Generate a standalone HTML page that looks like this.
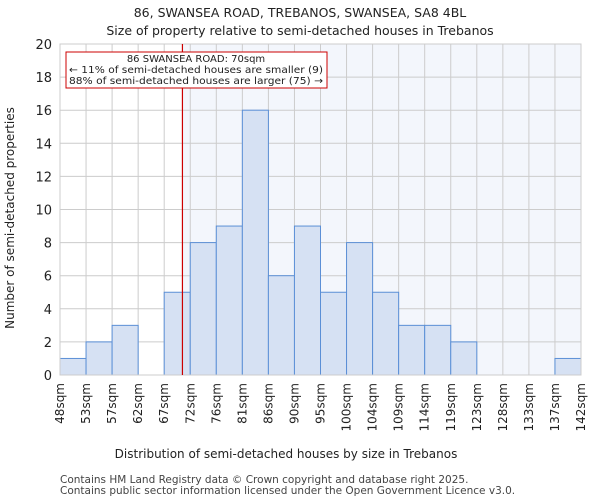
<!DOCTYPE html>
<html><head><meta charset="utf-8"><style>
body{margin:0;background:#fff;font-family:"DejaVu Sans","Liberation Sans",sans-serif}
</style></head><body>
<svg id="c" width="600" height="500" xmlns="http://www.w3.org/2000/svg" font-family="DejaVu Sans, Liberation Sans, sans-serif"></svg>
<script>
const edgeLabels=["48sqm","53sqm","57sqm","62sqm","67sqm","72sqm","76sqm","81sqm","86sqm","90sqm","95sqm","100sqm","104sqm","109sqm","114sqm","119sqm","123sqm","128sqm","133sqm","137sqm","142sqm"];
const edgeValues=[48,53,57,62,67,72,76,81,86,90,95,100,104,109,114,119,123,128,133,137,142];
const counts=[1,2,3,0,5,8,9,16,6,9,5,8,5,3,3,2,0,0,0,1];
const yTicks=[0,2,4,6,8,10,12,14,16,18,20];
const markerValue=70.5;
const svg=document.getElementById('c');
const NS='http://www.w3.org/2000/svg';
const L=60,R=581,T=44,B=375,yMax=20;
const bw=(R-L)/counts.length;
const xi=i=>L+i*bw;
const y=v=>B-(v/yMax)*(B-T);
function xv(v){for(let i=0;i<edgeValues.length-1;i++){if(v<=edgeValues[i+1])return xi(i+(v-edgeValues[i])/(edgeValues[i+1]-edgeValues[i]));}return R;}
function mk(t,a,txt){const e=document.createElementNS(NS,t);for(const k in a)e.setAttribute(k,a[k]);if(txt!==undefined)e.textContent=txt;svg.appendChild(e);return e;}
function tx(x,yy,s,o){return mk('text',Object.assign({x:x,y:yy,'font-size':12,fill:'#222'},o||{}),s);}
let e;
tx(300,17,"86, SWANSEA ROAD, TREBANOS, SWANSEA, SA8 4BL",{'text-anchor':'middle','font-size':12.5,});
tx(300,35,"Size of property relative to semi-detached houses in Trebanos",{'text-anchor':'middle','font-size':12.5,});
const mx=xv(markerValue);
e=mk('rect',{x:mx,y:T,width:R-mx,height:B-T,fill:'#eef2fb','fill-opacity':0.7});

yTicks.forEach(v=>{e=mk('line',{x1:L,x2:R,y1:y(v),y2:y(v),stroke:'#ccc','stroke-width':1});

e=tx(L-8,y(v)+5,String(v),{'text-anchor':'end','font-size':13});
});
edgeLabels.forEach((s,i)=>{e=mk('line',{x1:xi(i),x2:xi(i),y1:T,y2:B,stroke:'#ccc','stroke-width':1});

const px=xi(i)+4;
e=tx(px,B+8,s,{'text-anchor':'end',transform:`rotate(-90 ${px} ${B+8})`});
});
counts.forEach((c,i)=>{if(c<=0)return;e=mk('rect',{x:xi(i),y:y(c),width:bw,height:B-y(c),fill:'#d6e1f3',stroke:'#5b8fd6','stroke-width':1});
});
e=mk('rect',{x:L,y:T,width:R-L,height:B-T,fill:'none',stroke:'#ccc'});

e=mk('line',{x1:mx,x2:mx,y1:T,y2:B,stroke:'#cc0000','stroke-width':1.2});

e=mk('rect',{x:66,y:52,width:261,height:36,fill:'#fff',stroke:'#cc0000','stroke-width':1});

[["86 SWANSEA ROAD: 70sqm",62],["← 11% of semi-detached houses are smaller (9)",73],["88% of semi-detached houses are larger (75) →",84]].forEach((a,i)=>{
e=tx(i==0?196:69,a[1],a[0],{'font-size':10,'text-anchor':i==0?'middle':'start',textLength:i==0?null:255});
if(i>0){e.setAttribute('textLength','254');e.setAttribute('lengthAdjust','spacingAndGlyphs');}
});
e=tx(14,218,"Number of semi-detached properties",{'text-anchor':'middle',transform:'rotate(-90 14 218)'});

e=tx(286,458,"Distribution of semi-detached houses by size in Trebanos",{'text-anchor':'middle'});

e=tx(60,483,"Contains HM Land Registry data © Crown copyright and database right 2025.",{'font-size':10.5,fill:'#444'});

e=tx(60,494,"Contains public sector information licensed under the Open Government Licence v3.0.",{'font-size':10.5,fill:'#444'});

</script>
</body></html>
